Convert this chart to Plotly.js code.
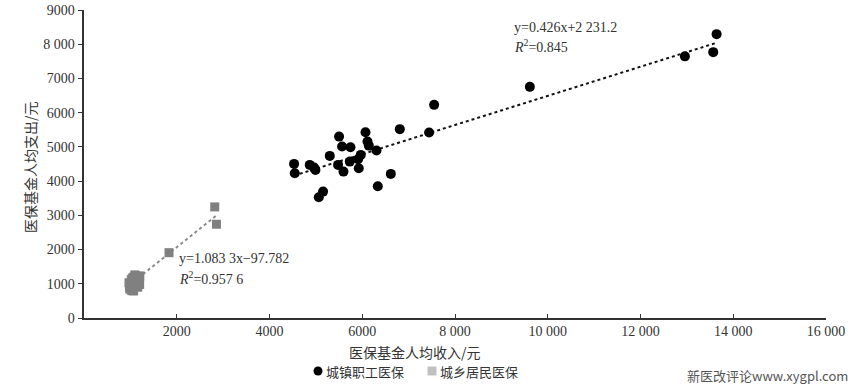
<!DOCTYPE html>
<html><head><meta charset="utf-8">
<script src="https://cdn.plot.ly/plotly-3.0.1.min.js"></script>
<style>html,body{margin:0;padding:0;background:#fff}#chart{width:857px;height:387px}</style>
</head><body><div id="chart"></div>
<script>
// 城镇职工医保 (urban employee insurance): per-capita income, per-capita expenditure
const urbanX = [4530,4545,4868,4961,4991,5155,5063,5300,5500,5565,5746,5479,5595,5731,5925,5910,5968,6070,6113,6141,6307,6335,6616,6810,7442,7550,9614,12957,13568,13641];
const urbanY = [4503,4231,4474,4395,4327,3693,3529,4737,5301,5009,4991,4474,4278,4570,4377,4640,4766,5430,5155,5038,4892,3851,4211,5518,5418,6228,6754,7646,7769,8295];
// 城乡居民医保 (urban-rural resident insurance)
const ruralX = [2819,2856,1833,1204,1096,1150,1020,1000,1050,1120,980,1080,990,1030,1060,1130,1180,970,1060,1100,1160,1000,1040,1070,1200,1040,1080];
const ruralY = [3246,2740,1909,1230,1260,1220,1120,1000,1060,1150,900,950,840,800,810,1000,1100,1030,1190,1060,900,960,880,790,980,1150,1000];
// fitted trend coefficients (from the chart's equations)
const urbanFit = {slope: 0.426, intercept: 2231.2};
const ruralFit = {slope: 1.0833, intercept: -97.782};
const seriesNames = ['城镇职工医保', '城乡居民医保'];
const xTickVals = [2000,4000,6000,8000,10000,12000,14000,16000];
const xTickText = ['2000','4000','6000','8 000','10 000','12 000','14 000','16 000'];
const yTickVals = [0,1000,2000,3000,4000,5000,6000,7000,8000,9000];
const yTickText = ['0','1000','2000','3000','4000','5000','6000','7000','8 000','9000'];

function fitLine(xs, fit){
  const lo = Math.min(...xs), hi = Math.max(...xs);
  return {x:[lo,hi], y:[fit.slope*lo+fit.intercept, fit.slope*hi+fit.intercept]};
}
const uL = fitLine(urbanX, urbanFit), rL = fitLine(ruralX, ruralFit);

const serif = 'Liberation Serif, Times New Roman, serif';
const cjk = 'Noto Sans CJK SC, sans-serif';

const traces = [
  {x:uL.x, y:uL.y, mode:'lines', line:{color:'#111', width:2, dash:'dot'}, showlegend:false, hoverinfo:'skip'},
  {x:rL.x, y:rL.y, mode:'lines', line:{color:'#888', width:2, dash:'dot'}, showlegend:false, hoverinfo:'skip'},
  {x:urbanX, y:urbanY, mode:'markers', name:seriesNames[0], marker:{symbol:'circle', size:10, color:'#000'}, showlegend:false},
  {x:ruralX, y:ruralY, mode:'markers', name:seriesNames[1], marker:{symbol:'square', size:9, color:'#808080'}, showlegend:false}
];

const W = 742, H = 308, L = 84, T = 10;
const px = v => (v - L)/W, py = v => (T + H - v)/H;

const ann = (x, y, text, opts) => Object.assign({xref:'paper', yref:'paper', x:px(x), y:py(y), text:text,
  showarrow:false, xanchor:'left', yanchor:'middle', font:{family:serif, size:14, color:'#333'}}, opts||{});

const layout = {
  width:857, height:387,
  margin:{l:84, r:31, t:10, b:69},
  paper_bgcolor:'#fff', plot_bgcolor:'#fff',
  showlegend:false,
  xaxis:{range:[0,16000], showgrid:false, zeroline:false, showline:true, linecolor:'#333', linewidth:1.5,
         ticks:'inside', ticklen:4, tickcolor:'#333', tickvals:xTickVals, ticktext:xTickText,
         tickfont:{family:serif, size:14, color:'#333'}},
  yaxis:{range:[0,9000], showgrid:false, zeroline:false, showline:true, linecolor:'#333', linewidth:2.5,
         ticks:'outside', ticklen:4, tickcolor:'#333', tickvals:yTickVals, ticktext:yTickText,
         tickfont:{family:serif, size:14, color:'#333'}},
  shapes:[
    {type:'circle', xref:'paper', yref:'paper', x0:px(313.5), x1:px(322.5), y0:py(375.5), y1:py(366.5),
     fillcolor:'#000', line:{width:0}},
    {type:'rect', xref:'paper', yref:'paper', x0:px(427.5), x1:px(436.5), y0:py(375.5), y1:py(366.5),
     fillcolor:'#c0c0c0', line:{width:0}}
  ],
  annotations:[
    ann(415, 352, '医保基金人均收入/元', {xanchor:'center', font:{family:cjk, size:14, color:'#333'}}),
    ann(30, 167, '医保基金人均支出/元', {xanchor:'center', textangle:-90, font:{family:cjk, size:14, color:'#333'}}),
    ann(512, 28, 'y=0.426x+2 231.2'),
    ann(512, 46, '<i>R</i><sup>2</sup>=0.845'),
    ann(177, 258, 'y=1.083 3x−97.782'),
    ann(177, 278, '<i>R</i><sup>2</sup>=0.957 6'),
    ann(324, 371, seriesNames[0], {font:{family:cjk, size:13, color:'#333'}}),
    ann(438, 371, seriesNames[1], {font:{family:cjk, size:13, color:'#333'}}),
    ann(850, 376, '新医改评论www.xygpl.com', {xanchor:'right', font:{family:cjk, size:13, color:'#555'}})
  ]
};
Plotly.newPlot('chart', traces, layout, {displayModeBar:false, staticPlot:true});
</script></body></html>
